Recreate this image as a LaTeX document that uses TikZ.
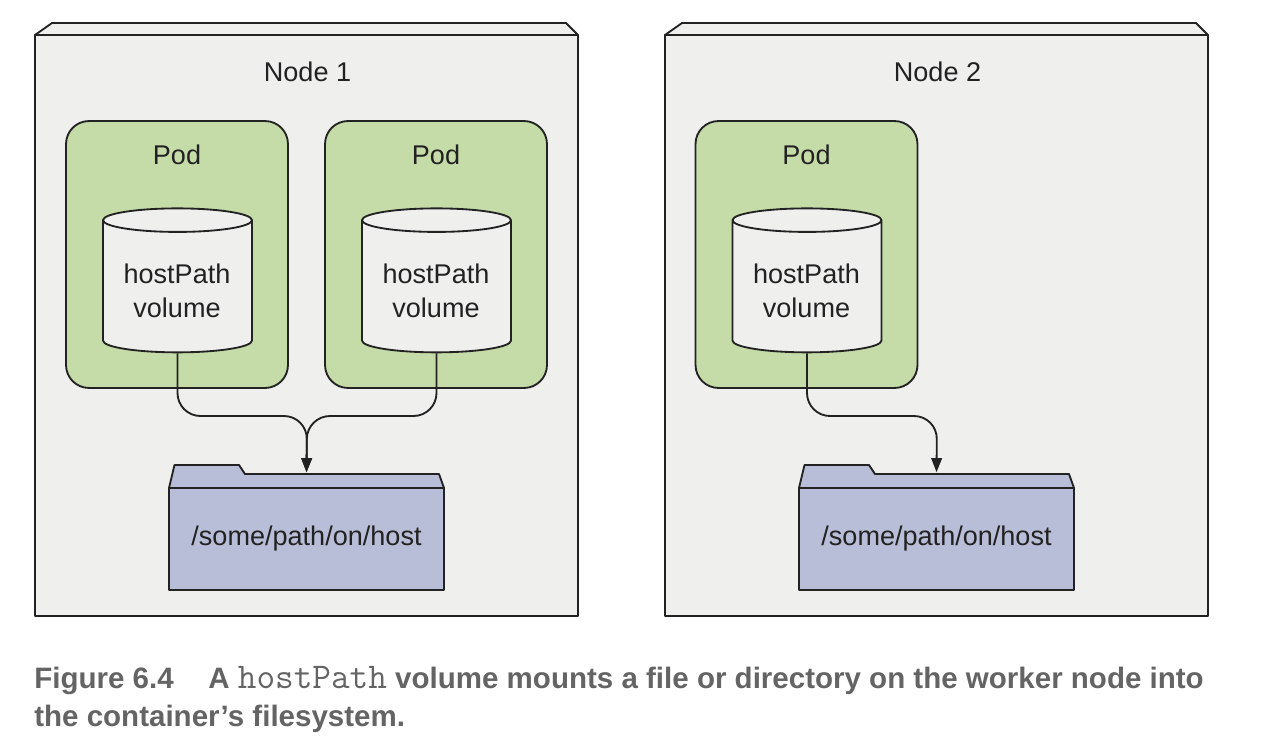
\documentclass[tikz,border=0pt]{standalone}
\usepackage{fontspec}
\setmainfont{Liberation Sans}
\usetikzlibrary{arrows.meta,shapes.geometric,calc}
\definecolor{lineclr}{RGB}{34,34,34}
\definecolor{nodebg}{RGB}{239,239,238}
\definecolor{podgreen}{RGB}{197,220,169}
\definecolor{folderblue}{RGB}{184,190,216}
\definecolor{captiongray}{RGB}{100,100,100}
\tikzset{
  lbl/.style={font=\fontsize{15.4pt}{19.5pt}\selectfont, color=lineclr, inner sep=0pt, align=center},
  outl/.style={draw=lineclr, line width=1.05pt, line join=round},
  nodebox/.style={rectangle, outl, fill=nodebg, minimum width=10.86cm, minimum height=11.62cm, inner sep=0pt},
  podbox/.style={rectangle, outl, fill=podgreen, rounded corners=0.46cm, minimum width=4.44cm, minimum height=5.34cm, inner sep=0pt},
  volcyl/.style={cylinder, shape border rotate=90, outl, aspect=0.2, cylinder uses custom fill,
                 text width=2.12cm, text height=1.2cm, text depth=0pt,
                 cylinder body fill=nodebg, cylinder end fill=nodebg, minimum width=2.98cm, minimum height=2.88cm},
  folderbox/.style={rectangle, outl, lbl, fill=folderblue, minimum width=5.5cm, minimum height=2.04cm},
  flowarr/.style={draw=lineclr, line width=1.05pt, rounded corners=0.46cm},
  tipped/.style={-{Triangle[length=8pt,width=6pt]}, shorten >=1pt},
}
\begin{document}
\begin{tikzpicture}[x=0.02cm,y=-0.02cm]
  \useasboundingbox (0,0) rectangle (1268,750);
  % worker boxes
  \foreach \nx/\nid in {0/1,630/2} {
    \draw[outl, fill=nodebg] ($(35,35)+(\nx,0)$) -- ++(17,-12) -- ++(514,0) -- ++(12,12) -- cycle;
    \node[nodebox] (box\nid) at ($(306.5,325.5)+(\nx,0)$) {};
    \node[lbl] (title\nid) at ($(307.5,71.5)+(\nx,0)$) {Node \nid};
  }
  % pods and volumes
  \foreach \px/\pid in {0/a,259/b,629.5/c} {
    \node[podbox] (pod\pid) at ($(177,254.5)+(\px,0)$) {};
    \node[lbl] (podlbl\pid) at ($(177,155)+(\px,0)$) {Pod};
    \node[volcyl] (vol\pid) at ($(177.5,289)+(\px,0)$) {};
    \node[lbl] (vollbl\pid) at ($(177,291)+(\px,0)$) {hostPath\\volume};
  }
  % folders
  \foreach \fx/\fid in {0/1,630/2} {
    \draw[outl, fill=folderblue] ($(169,488)+(\fx,0)$) -- ++(5.5,-23) -- ++(64.5,0) -- ++(6,9)
      coordinate[pos=1] (tabedge\fid) -- ++(194,0) -- ++(5,14) -- cycle;
    \node[folderbox] (folder\fid) at ($(306.5,539)+(\fx,0)$) {/some/path/on/host};
    \coordinate (tab\fid) at (folder\fid.north |- tabedge\fid);
  }
  \coordinate (join1) at (307,416);
  \coordinate (join2) at (937,416);
  \draw[flowarr, tipped] (vola.south) |- (join1) -- (tab1);
  \draw[flowarr, tipped] (volb.south) |- (join1) -- (tab1);
  \draw[flowarr, tipped] (volc.south) |- (join2) -- (tab2);
  % caption
  \node[anchor=base west, inner sep=0pt, color=captiongray, font=\fontsize{16.8pt}{21.6pt}\selectfont\bfseries, align=left] (caption) at (34,726)
    {Figure 6.4\hspace{19.7pt}A {\fontsize{20.6pt}{21.6pt}\selectfont\ttfamily\mdseries hostPath} volume mounts a file or directory on the worker node into\\
     the container’s filesystem.};
\end{tikzpicture}
\end{document}
